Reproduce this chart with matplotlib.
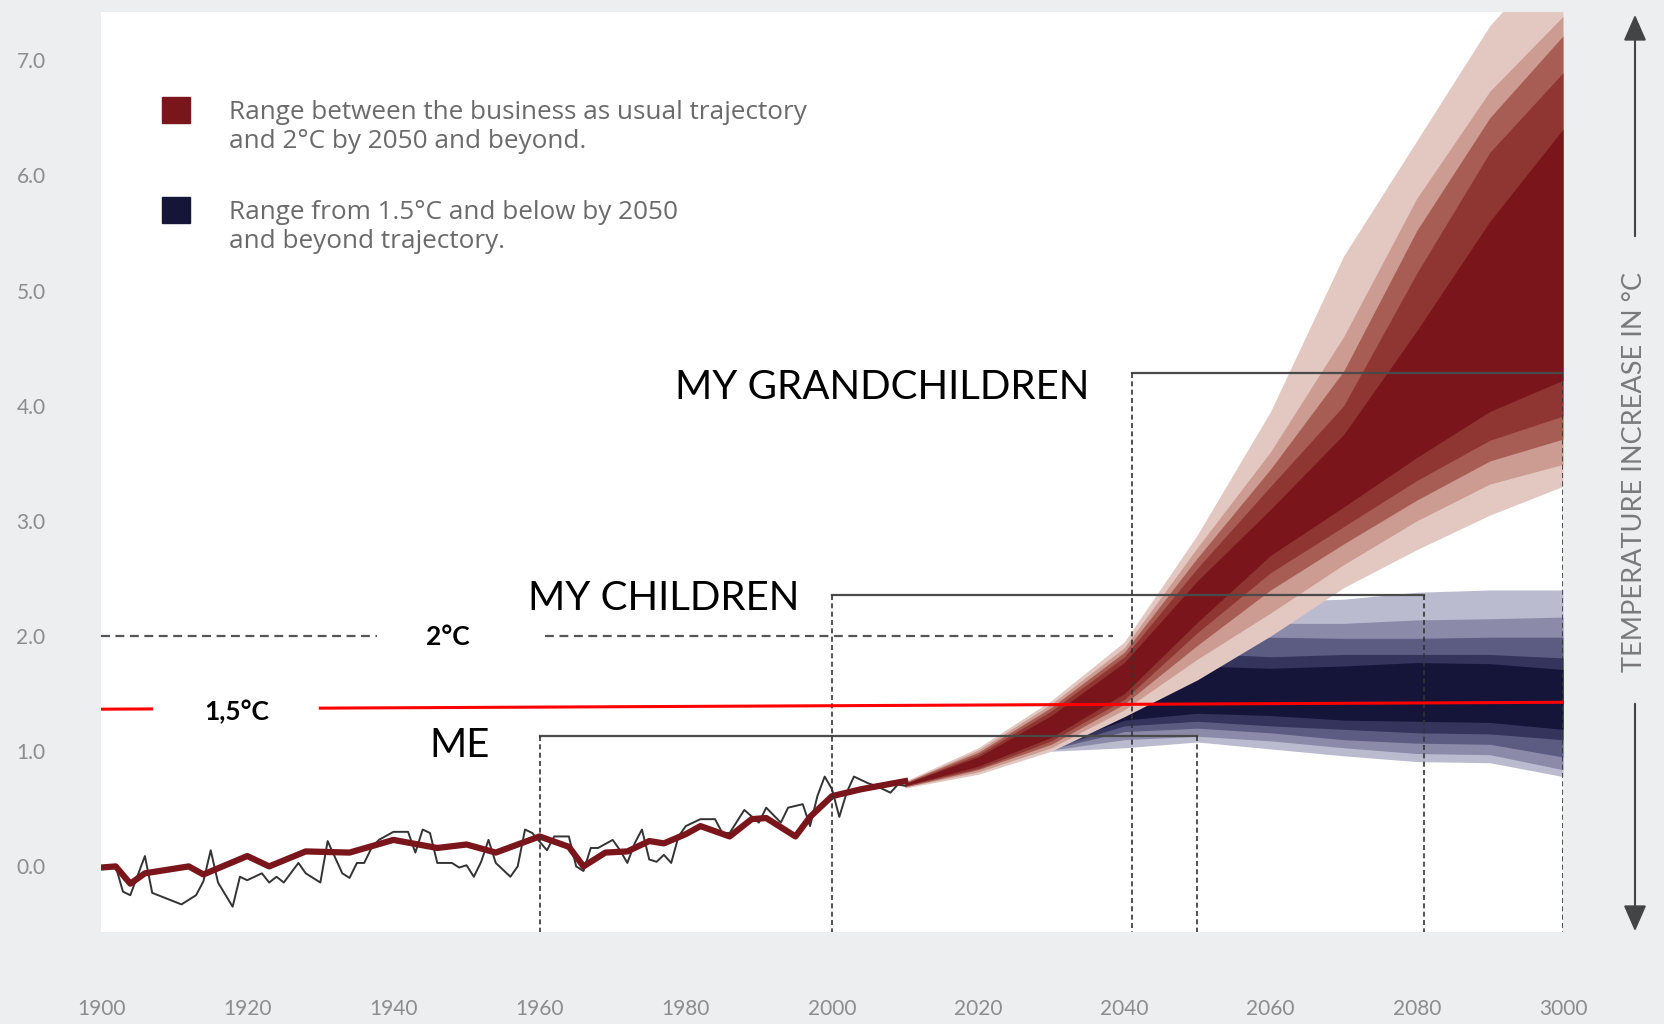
import matplotlib
matplotlib.use("Agg")
import matplotlib.pyplot as plt
from matplotlib.patches import Rectangle

# observed annual anomaly (thin black line)
obs_years = [1900, 1902, 1903, 1904, 1906, 1907, 1909, 1911, 1913, 1914, 1915, 1916, 1918, 1919,
             1920, 1922, 1923, 1924, 1925, 1927, 1928, 1930, 1931, 1933, 1934, 1935, 1936, 1937,
             1938, 1940, 1942, 1943, 1944, 1945, 1946, 1948, 1949, 1950, 1951, 1952, 1953, 1954,
             1956, 1957, 1958, 1959, 1961, 1962, 1964, 1965, 1966, 1967, 1968, 1970, 1971, 1972,
             1973, 1974, 1975, 1976, 1977, 1978, 1979, 1980, 1982, 1984, 1985, 1986, 1988, 1990,
             1991, 1993, 1994, 1996, 1997, 1998, 1999, 2000, 2001, 2002, 2003, 2005, 2006, 2008,
             2009, 2010]
obs_vals = [0.00, 0.00, -0.22, -0.25, 0.09, -0.23, -0.28, -0.33, -0.25, -0.13, 0.14, -0.14, -0.35, -0.09,
            -0.12, -0.06, -0.14, -0.09, -0.14, 0.03, -0.06, -0.14, 0.22, -0.06, -0.10, 0.03, 0.03, 0.16,
            0.23, 0.30, 0.30, 0.12, 0.32, 0.29, 0.03, 0.03, -0.01, 0.01, -0.09, 0.04, 0.23, 0.03,
            -0.09, 0.00, 0.32, 0.29, 0.14, 0.26, 0.26, 0.00, -0.04, 0.16, 0.16, 0.23, 0.14, 0.03,
            0.20, 0.32, 0.06, 0.04, 0.10, 0.03, 0.26, 0.35, 0.41, 0.41, 0.29, 0.29, 0.49, 0.38,
            0.51, 0.38, 0.51, 0.54, 0.35, 0.61, 0.78, 0.67, 0.43, 0.64, 0.78, 0.72, 0.70, 0.64,
            0.71, 0.70]

# smoothed trend (thick dark red line)
trend_years = [1900, 1902, 1904, 1906, 1912, 1914, 1920, 1923, 1928, 1934, 1940, 1946, 1950, 1954,
               1960, 1964, 1966, 1969, 1972, 1975, 1977, 1980, 1982, 1986, 1989, 1991, 1995, 1997,
               2000, 2004, 2010]
trend_vals = [-0.01, 0.00, -0.15, -0.06, 0.00, -0.07, 0.09, 0.00, 0.13, 0.12, 0.23, 0.16, 0.19, 0.12,
              0.26, 0.17, 0.00, 0.12, 0.13, 0.22, 0.20, 0.28, 0.35, 0.26, 0.41, 0.42, 0.26, 0.43,
              0.61, 0.67, 0.74]

# business as usual / 2C fan (outer -> inner)
red_years = [2010, 2020, 2030, 2040, 2050, 2060, 2070, 2080, 2090, 2100]
red_upper = [
    [0.74, 1.03, 1.44, 1.95, 2.88, 3.95, 5.30, 6.30, 7.30, 8.00],
    [0.73, 1.01, 1.41, 1.90, 2.77, 3.60, 4.60, 5.80, 6.73, 7.38],
    [0.73, 0.99, 1.38, 1.86, 2.68, 3.45, 4.30, 5.52, 6.50, 7.21],
    [0.72, 0.97, 1.35, 1.82, 2.59, 3.30, 4.00, 5.15, 6.20, 6.89],
    [0.72, 0.95, 1.31, 1.77, 2.48, 3.10, 3.75, 4.65, 5.60, 6.40],
]
red_lower = [
    [0.68, 0.80, 1.00, 1.30, 1.62, 2.00, 2.42, 2.75, 3.05, 3.30],
    [0.69, 0.82, 1.03, 1.36, 1.80, 2.20, 2.62, 3.00, 3.32, 3.49],
    [0.69, 0.84, 1.06, 1.41, 1.92, 2.40, 2.80, 3.18, 3.52, 3.71],
    [0.70, 0.85, 1.09, 1.45, 2.03, 2.55, 2.95, 3.35, 3.70, 3.91],
    [0.70, 0.87, 1.12, 1.50, 2.12, 2.70, 3.12, 3.55, 3.95, 4.22],
]
red_colors = ["#e3c8c2", "#cc9b92", "#a85d54", "#8f3633", "#7a161b"]

# 1.5C fan (outer -> inner)
blue_years = [2030, 2040, 2050, 2060, 2070, 2080, 2090, 2100]
blue_upper = [
    [1.05, 1.70, 2.30, 2.30, 2.32, 2.38, 2.40, 2.40],
    [1.05, 1.65, 2.10, 2.11, 2.11, 2.14, 2.15, 2.165],
    [1.05, 1.60, 1.98, 1.99, 1.98, 1.98, 1.99, 1.99],
    [1.05, 1.55, 1.85, 1.82, 1.84, 1.84, 1.84, 1.81],
    [1.05, 1.50, 1.74, 1.72, 1.74, 1.77, 1.76, 1.71],
]
blue_lower = [
    [1.00, 1.03, 1.08, 1.02, 0.96, 0.91, 0.90, 0.78],
    [1.01, 1.10, 1.13, 1.09, 1.03, 0.98, 0.97, 0.84],
    [1.02, 1.17, 1.20, 1.16, 1.10, 1.07, 1.06, 0.95],
    [1.03, 1.22, 1.26, 1.22, 1.19, 1.16, 1.15, 1.10],
    [1.04, 1.27, 1.33, 1.31, 1.27, 1.26, 1.25, 1.19],
]
blue_colors = ["#bbbbcf", "#8b8aa8", "#5c5b81", "#35345d", "#15153a"]

# generation brackets: label, start year, end year, level
gen_labels = ["ME", "MY CHILDREN", "MY GRANDCHILDREN"]
gen_start = [1960, 2000, 2041]
gen_end = [2050, 2081, 2100]
gen_level = [1.135, 2.36, 4.28]

xticks = [1900, 1920, 1940, 1960, 1980, 2000, 2020, 2040, 2060, 2080, 2100]
xtick_labels = ["1900", "1920", "1940", "1960", "1980", "2000", "2020", "2040", "2060", "2080", "3000"]
yticks = [0, 1, 2, 3, 4, 5, 6, 7]

legend_texts = ["Range between the business as usual trajectory\nand 2°C by 2050 and beyond.",
                "Range from 1.5°C and below by 2050\nand beyond trajectory."]

grey_bg = "#edeef0"
tick_col = "#8c8c8c"

fig = plt.figure(figsize=(16.65, 10.24), dpi=100)
fig.patch.set_facecolor(grey_bg)
ax = fig.add_axes([0.0607, 0.0898, 0.878, 0.8987])
ax.set_facecolor("white")
ax.set_xlim(1900, 2100)
ax.set_ylim(-0.57, 7.42)
for s in ax.spines.values():
    s.set_visible(False)

# fans
for lo, up, c in zip(blue_lower, blue_upper, blue_colors):
    ax.fill_between(blue_years, lo, up, color=c, lw=0, zorder=2)
for lo, up, c in zip(red_lower, red_upper, red_colors):
    ax.fill_between(red_years, lo, up, color=c, lw=0, zorder=3)

# observations
ax.plot(obs_years, obs_vals, color="#333333", lw=1.4, zorder=4)
ax.plot(trend_years, trend_vals, color="#7a161b", lw=4.5, zorder=5, solid_joinstyle="round")

# 2C line with a gap for its label
ax.plot([1900, 1937.7], [2.0, 2.0], color="#555555", lw=1.6, ls=(0, (4, 2.5)), zorder=6)
ax.plot([1960.8, 2038.5], [2.0, 2.0], color="#555555", lw=1.6, ls=(0, (4, 2.5)), zorder=6)
ax.text(1947.5, 1.99, "2°C", fontsize=19, fontweight="bold", family="Lato",
        ha="center", va="center", zorder=7)

# 1.5C line (slightly sloped in the original)
def y15(x):
    return 1.365 + (x - 1900) * (1.425 - 1.365) / 200
ax.plot([1900, 1906.9], [y15(1900), y15(1906.9)], color="#ff0000", lw=2.2, zorder=8)
ax.plot([1930, 2100], [y15(1930), y15(2100)], color="#ff0000", lw=2.2, zorder=8)
ax.text(1918.6, 1.34, "1,5°C", fontsize=19, fontweight="bold", family="Lato",
        ha="center", va="center", zorder=7)

# generation brackets
for lab, x0, x1, lv in zip(gen_labels, gen_start, gen_end, gen_level):
    ax.plot([x0, x1], [lv, lv], color="#4a4a4a", lw=1.6, zorder=7)
    for xv in (x0, x1):
        ax.plot([xv, xv], [lv, -0.57], color="#333333", lw=1.2, ls=(0, (3, 2)), zorder=7)
ax.text(1944.9, 1.05, gen_labels[0], fontsize=29, family="Lato", ha="left", va="center", zorder=7)
ax.text(1958.4, 2.33, gen_labels[1], fontsize=29, family="Lato", ha="left", va="center", zorder=7)
ax.text(1978.5, 4.16, gen_labels[2], fontsize=29, family="Lato", ha="left", va="center", zorder=7)

# ticks
ax.set_xticks(xticks)
ax.set_xticklabels(xtick_labels)
ax.set_yticks(yticks)
ax.set_yticklabels(["%.1f" % v for v in yticks])
ax.tick_params(axis="x", length=0, pad=48, labelsize=15, labelcolor=tick_col)
ax.tick_params(axis="y", length=0, pad=40, labelsize=15, labelcolor=tick_col)
for t in ax.get_xticklabels() + ax.get_yticklabels():
    t.set_family("Lato")

# legend
fig.patches.append(Rectangle((162 / 1665, 1 - 123 / 1024), 28 / 1665, 26 / 1024,
                             transform=fig.transFigure, color="#7a161b", zorder=10))
fig.patches.append(Rectangle((162 / 1665, 1 - 223 / 1024), 28 / 1665, 26 / 1024,
                             transform=fig.transFigure, color="#15153a", zorder=10))
fig.text(229 / 1665, 1 - 127 / 1024, legend_texts[0], fontsize=18.8, family=["Open Sans", "Lato"],
         color="#6a6a6a", va="center", ha="left", linespacing=1.18)
fig.text(229 / 1665, 1 - 227 / 1024, legend_texts[1], fontsize=18.8, family=["Open Sans", "Lato"],
         color="#6a6a6a", va="center", ha="left", linespacing=1.18)

# right-hand axis arrow
ax_x = 1635 / 1665
arrow_kw = dict(arrowstyle="-|>,head_length=0.8,head_width=0.35", color="#444444", lw=1.5)
fig.add_artist(matplotlib.patches.FancyArrowPatch((ax_x, 1 - 239 / 1024), (ax_x, 1 - 12 / 1024),
                                                  transform=fig.transFigure, mutation_scale=20, **arrow_kw))
fig.add_artist(matplotlib.patches.FancyArrowPatch((ax_x, 1 - 701 / 1024), (ax_x, 1 - 934 / 1024),
                                                  transform=fig.transFigure, mutation_scale=20, **arrow_kw))
fig.text(ax_x, 1 - 472 / 1024, "TEMPERATURE INCREASE IN °C", rotation=90, fontsize=19.5,
         family="Lato", color="#7a7a7a", ha="center", va="center")

fig.savefig("out.png", dpi=100, facecolor=fig.get_facecolor())
